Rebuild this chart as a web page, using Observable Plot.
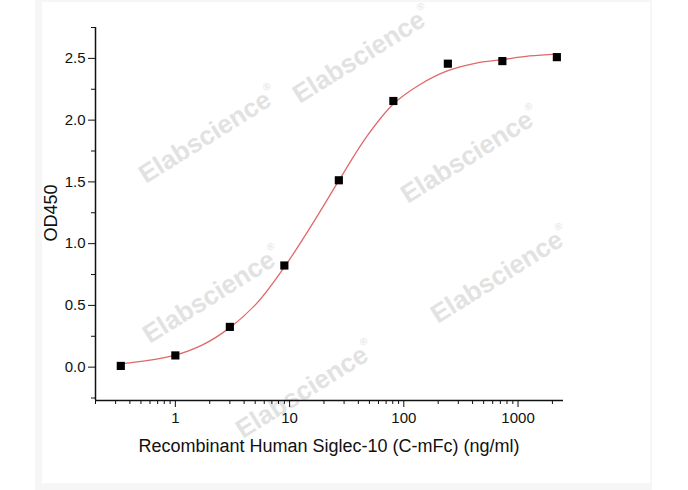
<!DOCTYPE html>
<html>
<head>
<meta charset="utf-8">
<script src="https://cdn.jsdelivr.net/npm/d3@7"></script>
<script src="https://cdn.jsdelivr.net/npm/@observablehq/plot@0.6"></script>
<style>
  html, body { margin: 0; padding: 0; background: #fff; }
  #wrap { position: relative; width: 688px; height: 490px; overflow: hidden; font-family: "Liberation Sans", Arial, sans-serif; }
  #outer { position: absolute; left: 35px; top: 0; width: 617px; height: 490px; background: #f6f6f6; }
  #inner { position: absolute; left: 42px; top: 2px; width: 608px; height: 481px; background: #fff; }
  .wm { position: absolute; transform: translate(-50%, -50%) rotate(-32deg); color: #e2e2e2; font-weight: bold; font-size: 26px; white-space: nowrap; }
  .wm sup { font-size: 10px; font-weight: normal; vertical-align: 15px; }
  #plot { position: absolute; left: 0; top: 0; }
  .lab { position: absolute; color: #111; font-size: 18px; white-space: nowrap; }
</style>
</head>
<body>
<div id="wrap">
  <div id="outer"></div>
  <div id="inner"></div>
  <div id="wms"></div>
  <div id="plot"></div>
  <div class="lab" id="xlab"></div>
  <div class="lab" id="ylab"></div>
</div>
<script>
// Data: concentration (ng/ml) and OD450
const conc = [0.333, 1, 3, 9, 27, 81, 243, 729, 2187];
const od450 = [0.01, 0.095, 0.326, 0.823, 1.513, 2.155, 2.457, 2.478, 2.51];

// Fitted curve
const fitConc = [0.333, 0.58, 1, 1.73, 3, 5.2, 9, 15.6, 27, 46.8, 81, 140, 243, 421, 729, 1263, 2187];
const fitOD = [0.027, 0.055, 0.097, 0.18, 0.32, 0.52, 0.81, 1.15, 1.51, 1.86, 2.13, 2.29, 2.40, 2.46, 2.49, 2.52, 2.535];

// Axes
const xDomain = [0.2, 2500];
const yDomain = [-0.27, 2.75];
const xMajor = [1, 10, 100, 1000];
const xMinor = [0.2,0.3,0.4,0.5,0.6,0.7,0.8,0.9,2,3,4,5,6,7,8,9,20,30,40,50,60,70,80,90,200,300,400,500,600,700,800,900,2000];
const yMajor = [0, 0.5, 1.0, 1.5, 2.0, 2.5];
const yMinor = [-0.25, 0.25, 0.75, 1.25, 1.75, 2.25, 2.75];
const xTitle = "Recombinant Human Siglec-10 (C-mFc) (ng/ml)";
const yTitle = "OD450";
const watermark = "Elabscience";

const points = conc.map((c, i) => ({c, v: od450[i]}));
const fit = fitConc.map((c, i) => ({c, v: fitOD[i]}));

const chart = Plot.plot({
  width: 688,
  height: 490,
  marginLeft: 95,
  marginRight: 125,
  marginTop: 27,
  marginBottom: 90,
  style: {background: "transparent", fontFamily: "'Liberation Sans', Arial, sans-serif", fontSize: "15px", color: "#111"},
  x: {type: "log", domain: xDomain},
  y: {domain: yDomain},
  marks: [
    Plot.axisY({ticks: yMinor, tickSize: 4, tickFormat: () => "", label: null}),
    Plot.axisY({ticks: yMajor, tickSize: 7, tickPadding: 3, tickFormat: d3.format(".1f"), label: null}),
    Plot.axisX({ticks: xMinor, tickSize: 4, tickFormat: () => "", label: null}),
    Plot.axisX({ticks: xMajor, tickSize: 7, tickPadding: 5, tickFormat: d => String(d), label: null}),
    Plot.ruleX([xDomain[0]], {stroke: "#111", strokeWidth: 1.5}),
    Plot.ruleY([yDomain[0]], {stroke: "#111", strokeWidth: 1.5}),
    Plot.line(fit, {x: "c", y: "v", stroke: "#e06868", strokeWidth: 1.3, curve: "catmull-rom"}),
    Plot.dot(points, {x: "c", y: "v", symbol: "square", r: 4.6, fill: "#000", stroke: "none"})
  ]
});
document.getElementById("plot").appendChild(chart);

// Axis titles
const xl = document.getElementById("xlab");
xl.textContent = xTitle;
xl.style.left = "329px"; xl.style.top = "446px"; xl.style.transform = "translate(-50%, -50%)";
const yl = document.getElementById("ylab");
yl.textContent = yTitle;
yl.style.left = "51px"; yl.style.top = "213px"; yl.style.transform = "translate(-50%, -50%) rotate(-90deg)";

// Watermarks (decorative)
const wmPos = [[362, 55], [208, 135], [470, 155], [212, 295], [500, 275], [305, 390]];
const wms = document.getElementById("wms");
wmPos.forEach(([l, t]) => {
  const d = document.createElement("div");
  d.className = "wm";
  d.style.left = l + "px"; d.style.top = t + "px";
  d.innerHTML = watermark + "<sup>®</sup>";
  wms.appendChild(d);
});
</script>
</body>
</html>
